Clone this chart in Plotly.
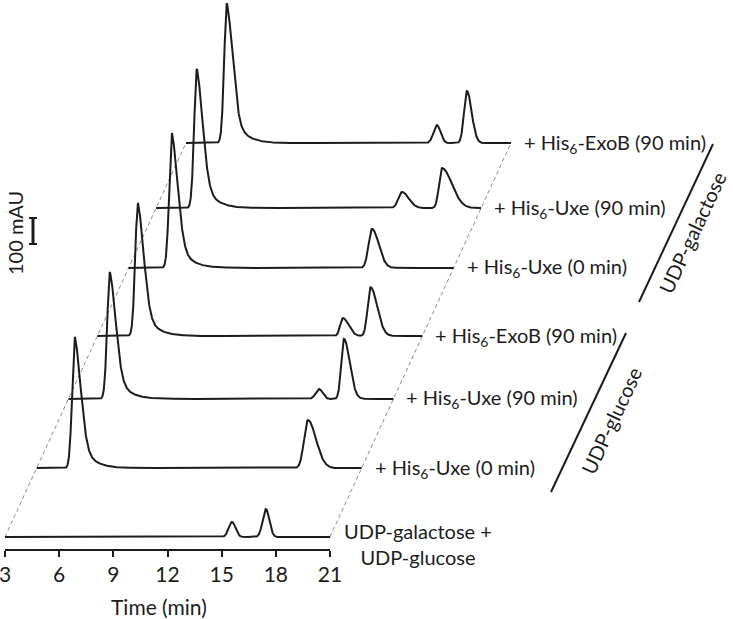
import numpy as np
import plotly.graph_objects as go

# ---------------- data ----------------
trace_labels = [
    "UDP-galactose +<br>UDP-glucose",
    "+ His<sub>6</sub>-Uxe (0 min)",
    "+ His<sub>6</sub>-Uxe (90 min)",
    "+ His<sub>6</sub>-ExoB (90 min)",
    "+ His<sub>6</sub>-Uxe (0 min)",
    "+ His<sub>6</sub>-Uxe (90 min)",
    "+ His<sub>6</sub>-ExoB (90 min)",
]
group_labels = ["UDP-glucose", "UDP-galactose"]

# early (large) peak: retention time (min) and height (mAU); trace 0 has none
main_peak_time = [None, 5.12, 5.30, 5.25, 5.40, 5.26, 5.27]
main_peak_height = [0, 504, 488, 512, 519, 535, 538]

# nucleotide-sugar peaks per trace
peak_times = [[15.57, 17.45], [18.02], [16.88, 18.26], [16.60, 18.13],
              [16.48], [16.62, 18.83], [16.90, 18.56]]
peak_heights = [[58, 108], [185], [38, 231], [69, 188],
                [150], [62, 154], [69, 200]]
peak_rise = [[0.18, 0.18], [0.21], [0.19, 0.15], [0.15, 0.16],
             [0.19], [0.20, 0.16], [0.19, 0.16]]
peak_fall = [[0.19, 0.19], [0.45], [0.20, 0.32], [0.32, 0.37],
             [0.37], [0.37, 0.55], [0.20, 0.26]]

time_ticks = [3, 6, 9, 12, 15, 18, 21]
t_start, t_end = 3, 21
scale_bar_mau = 100

# stacking offsets of the traces (mAU)
stack_offsets = [0, 265, 531, 773, 1035, 1265, 1515]

# ---------------- geometry ----------------
W, H = 733, 619
PLOT_H = 550
PX_PER_MIN = 325 / 18.0
PX_PER_MAU = 0.26
SLANT = 181 / 394.0          # px to the right per px upward
X0_PX, BASE_PX = 5, 537

def X(px):
    return t_start + (px - X0_PX) / PX_PER_MIN

def Y(py):
    return (BASE_PX - py) / PX_PER_MAU

def PXp(px):
    return px / W

def PYp(py):
    return (PLOT_H - py) / PLOT_H

def shift_min(off):
    return off * PX_PER_MAU * SLANT / PX_PER_MIN

def asym_peak(t, t0, h, sl, sr, tail_w=0.0, tau=1.0):
    d = t - t0
    left = h * np.exp(-0.5 * (d / sl) ** 2)
    right = h * ((1 - tail_w) * np.exp(-0.5 * (d / sr) ** 2)
                 + tail_w * np.exp(-np.clip(d, 0, None) / tau))
    return np.where(d < 0, left, right)

t = np.linspace(t_start, t_end, 2401)
LINE = "#1c1c1c"
FONT = "Lato"
FS = 20

fig = go.Figure()

# dashed guide lines
top = len(stack_offsets) - 1
for tt in (t_start, t_end):
    fig.add_trace(go.Scatter(
        x=[tt, tt + shift_min(stack_offsets[top])],
        y=[0, stack_offsets[top]],
        mode="lines", line=dict(color="#8c8c8c", width=1, dash="4px,3px"),
        hoverinfo="skip", showlegend=False))

for i in range(len(stack_offsets)):
    sig = np.zeros_like(t)
    if main_peak_time[i] is not None:
        sig += asym_peak(t, main_peak_time[i], main_peak_height[i],
                         0.15, 0.33, tail_w=0.35, tau=0.6)
    for t0, h, sl, sr in zip(peak_times[i], peak_heights[i],
                             peak_rise[i], peak_fall[i]):
        sig += asym_peak(t, t0, h, sl, sr)
    off = stack_offsets[i]
    fig.add_trace(go.Scatter(
        x=t + shift_min(off), y=sig + off, mode="lines",
        line=dict(color=LINE, width=2), showlegend=False,
        name=trace_labels[i].replace("<br>", " ")))

annotations = []
for i in range(len(stack_offsets)):
    off = stack_offsets[i]
    xe = t_end + shift_min(off)
    if i == 0:
        annotations.append(dict(
            x=xe + 12 / PX_PER_MIN, y=off - 25, xref="x", yref="y",
            text=trace_labels[i], showarrow=False, xanchor="left",
            yanchor="middle", align="center",
            font=dict(family=FONT, size=FS, color=LINE)))
    else:
        annotations.append(dict(
            x=xe + 11 / PX_PER_MIN, y=off, xref="x", yref="y",
            text=trace_labels[i], showarrow=False, xanchor="left",
            yanchor="middle", font=dict(family=FONT, size=FS, color=LINE)))

# group brackets
shapes = []
brackets = [((626, 333), (551, 492)), ((713, 144), (639, 302))]
group_pos = [(611, 421), (692, 233)]
for (p1, p2), lab, (cx, cy) in zip(brackets, group_labels, group_pos):
    shapes.append(dict(type="line", xref="paper", yref="paper",
                       x0=PXp(p1[0]), y0=PYp(p1[1]), x1=PXp(p2[0]), y1=PYp(p2[1]),
                       line=dict(color=LINE, width=2)))
    annotations.append(dict(x=PXp(cx), y=PYp(cy), xref="paper", yref="paper",
                            text=lab, showarrow=False, textangle=-65,
                            xanchor="center", yanchor="middle",
                            font=dict(family=FONT, size=FS, color=LINE)))

# x axis line (only under the bottom trace)
shapes.append(dict(type="line", xref="x", yref="paper", x0=t_start, x1=t_end,
                   y0=0, y1=0, line=dict(color=LINE, width=2)))

# 100 mAU scale bar
bx = X(33)
bc = Y(231)
cap = 4 / PX_PER_MIN
shapes.append(dict(type="line", xref="x", yref="y", x0=bx, x1=bx,
                   y0=bc - scale_bar_mau / 2, y1=bc + scale_bar_mau / 2,
                   line=dict(color=LINE, width=3)))
for yy in (bc - scale_bar_mau / 2, bc + scale_bar_mau / 2):
    shapes.append(dict(type="line", xref="x", yref="y", x0=bx - cap, x1=bx + cap,
                       y0=yy, y1=yy, line=dict(color=LINE, width=2)))
annotations.append(dict(x=PXp(15), y=PYp(233), xref="paper", yref="paper",
                        text=f"{scale_bar_mau} mAU", showarrow=False, textangle=-90,
                        xanchor="center", yanchor="middle",
                        font=dict(family=FONT, size=FS, color=LINE)))

# axis title
annotations.append(dict(x=PXp(159), y=PYp(607), xref="paper", yref="paper",
                        text="Time (min)", showarrow=False,
                        xanchor="center", yanchor="middle",
                        font=dict(family=FONT, size=FS + 1, color=LINE)))

fig.update_layout(
    width=W, height=H,
    margin=dict(l=0, r=0, t=0, b=H - PLOT_H, pad=0),
    paper_bgcolor="white", plot_bgcolor="white",
    xaxis=dict(range=[X(0), X(W)], tickvals=time_ticks,
               ticktext=[str(v) for v in time_ticks],
               ticks="outside", ticklen=6, tickwidth=2, tickcolor=LINE,
               ticklabeloverflow="allow",
               showline=False, showgrid=False, zeroline=False,
               tickfont=dict(family=FONT, size=FS + 1, color=LINE)),
    yaxis=dict(range=[Y(PLOT_H), Y(0)], visible=False,
               showgrid=False, zeroline=False),
    shapes=shapes, annotations=annotations,
)

fig.write_html("out.html",
               config={"displayModeBar": False},
               post_script="document.body.style.margin='0';"
                           "document.body.style.overflow='hidden';")
